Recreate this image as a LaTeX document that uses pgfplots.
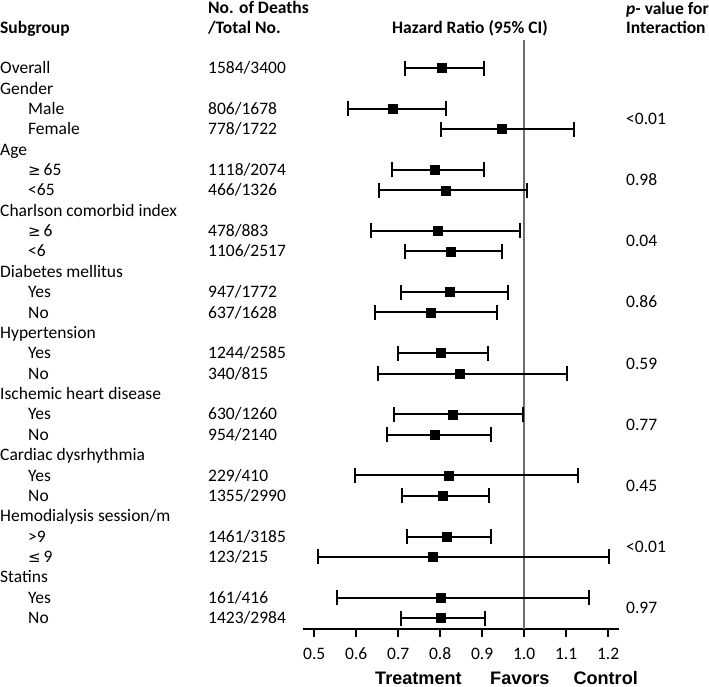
\documentclass[border=0pt]{standalone}
\usepackage{pgfplots}
\pgfplotsset{compat=1.18}
\usepackage{pgfplotstable}
\usepackage{fontspec}
\setmainfont{Carlito}
\newfontfamily\lib{Liberation Sans}
\newfontfamily\dv{DejaVu Sans}

\pgfplotstableread{
row lo hr hi
1 0.715 0.803 0.905
3 0.581 0.687 0.815
4 0.801 0.947 1.118
6 0.684 0.787 0.905
7 0.654 0.812 1.006
9 0.636 0.793 0.989
10 0.717 0.825 0.948
12 0.707 0.823 0.962
13 0.645 0.777 0.935
15 0.700 0.800 0.914
16 0.651 0.847 1.103
18 0.691 0.830 0.998
19 0.674 0.788 0.922
21 0.597 0.821 1.129
22 0.710 0.807 0.916
24 0.720 0.815 0.921
25 0.510 0.783 1.201
27 0.554 0.800 1.155
28 0.706 0.801 0.907
}\hrdata

\newcommand\fs{\fontsize{17.5pt}{21pt}\selectfont}
% row centre in px: 68 + (i-1)*20.37
\newcommand\lab[3]{\node[anchor=west, text height=11.3pt, text depth=0pt, inner sep=0pt, font=\fs] at (#1pt,{-(68+(#2-1)*20.37)*1pt}) {#3};}
\newcommand\labm[3]{\node[anchor=west, text height=11.3pt, text depth=0pt, inner sep=0pt, font=\fs] at (#1pt,{-(68+(#2-1)*20.37+10.185)*1pt}) {#3};}
\newcommand\laby[3]{\node[anchor=west, text height=11.3pt, text depth=0pt, inner sep=0pt, font=\fs\bfseries] at (#1pt,-#2pt) {#3};}
\newcommand\mygeq{{\dv\fontsize{15pt}{18pt}\selectfont ≥}\,}
\newcommand\myleq{{\dv\fontsize{15pt}{18pt}\selectfont ≤}\,}

\begin{document}
\begin{tikzpicture}
\path[use as bounding box] (0,0) rectangle (709pt,-687pt);
\begin{axis}[
  at={(302.7pt,-629pt)}, anchor=south west,
  scale only axis, width=316pt, height=589pt,
  xmin=0.4724, xmax=1.2253, ymin=-28.54, ymax=0.375,
  axis x line=bottom, axis y line=none,
  axis line style={-, black, line width=2pt},
  xtick={0.5,0.6,0.7,0.8,0.9,1.0,1.1,1.2},
  xticklabels={0.5,0.6,0.7,0.8,0.9,1.0,1.1,1.2},
  xticklabel style={font=\fs, yshift=-8pt},
  tick align=outside, major tick length=7.5pt,
  tick style={black, line width=2pt},
  clip=false,
]
\addplot[color={rgb,255:red,110;green,110;blue,110}, line width=1.8pt] coordinates {(1,0.375) (1,-28.54)};
\addplot[black, only marks, mark=square*, mark size=4.5pt,
  error bars/.cd, x dir=both, x explicit,
  error bar style={line width=2pt, black},
  error mark options={rotate=90, mark size=7.5pt, line width=2pt, black}]
  table[x=hr, y expr=-\thisrow{row},
        x error plus expr=\thisrow{hi}-\thisrow{hr},
        x error minus expr=\thisrow{hr}-\thisrow{lo}] {\hrdata};
\end{axis}

% headers
\laby{0}{27.7}{Subgroup}
\laby{208}{8.3}{No. of Deaths}
\laby{208}{27.7}{/Total No.}
\node[anchor=center, text height=11.3pt, text depth=0pt, inner sep=0pt, font=\fs\bfseries] at (470pt,-28.3pt) {Hazard Ratio (95\% CI)};
\laby{626}{9}{\textit{p-} value for}
\laby{626}{28}{Interaction}

% subgroup column
\lab{0}{1}{Overall}
\lab{0}{2}{Gender}
\lab{28}{3}{Male}
\lab{28}{4}{Female}
\lab{0}{5}{Age}
\lab{28}{6}{\mygeq 65}
\lab{28}{7}{<65}
\lab{0}{8}{Charlson comorbid index}
\lab{28}{9}{\mygeq 6}
\lab{28}{10}{<6}
\lab{0}{11}{Diabetes mellitus}
\lab{28}{12}{Yes}
\lab{28}{13}{No}
\lab{0}{14}{Hypertension}
\lab{28}{15}{Yes}
\lab{28}{16}{No}
\lab{0}{17}{Ischemic heart disease}
\lab{28}{18}{Yes}
\lab{28}{19}{No}
\lab{0}{20}{Cardiac dysrhythmia}
\lab{28}{21}{Yes}
\lab{28}{22}{No}
\lab{0}{23}{Hemodialysis session/m}
\lab{28}{24}{>9}
\lab{28}{25}{\myleq 9}
\lab{0}{26}{Statins}
\lab{28}{27}{Yes}
\lab{28}{28}{No}

% deaths column
\lab{208}{1}{1584/3400}
\lab{208}{3}{806/1678}
\lab{208}{4}{778/1722}
\lab{208}{6}{1118/2074}
\lab{208}{7}{466/1326}
\lab{208}{9}{478/883}
\lab{208}{10}{1106/2517}
\lab{208}{12}{947/1772}
\lab{208}{13}{637/1628}
\lab{208}{15}{1244/2585}
\lab{208}{16}{340/815}
\lab{208}{18}{630/1260}
\lab{208}{19}{954/2140}
\lab{208}{21}{229/410}
\lab{208}{22}{1355/2990}
\lab{208}{24}{1461/3185}
\lab{208}{25}{123/215}
\lab{208}{27}{161/416}
\lab{208}{28}{1423/2984}

% p-values
\labm{626}{3}{<0.01}
\labm{626}{6}{0.98}
\labm{626}{9}{0.04}
\labm{626}{12}{0.86}
\labm{626}{15}{0.59}
\labm{626}{18}{0.77}
\labm{626}{21}{0.45}
\labm{626}{24}{<0.01}
\labm{626}{27}{0.97}

% bottom labels
\node[anchor=base west, inner sep=0pt, font=\lib\fontsize{18.1pt}{21pt}\selectfont\bfseries] at (375pt,-684.5pt) {Treatment};
\node[anchor=base west, inner sep=0pt, font=\lib\fontsize{18.1pt}{21pt}\selectfont\bfseries] at (490pt,-684.5pt) {Favors};
\node[anchor=base west, inner sep=0pt, font=\lib\fontsize{18.1pt}{21pt}\selectfont\bfseries] at (573.3pt,-684.5pt) {Control};
\end{tikzpicture}
\end{document}
